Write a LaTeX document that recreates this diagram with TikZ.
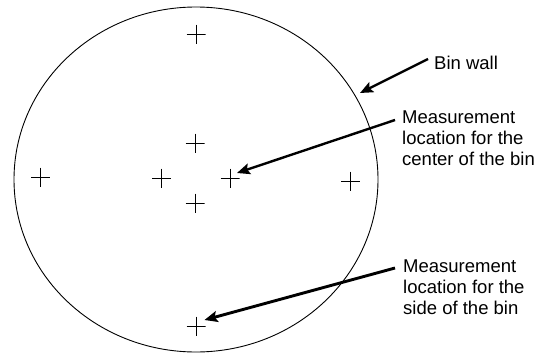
\documentclass[tikz,border=0pt]{standalone}
\usepackage{fontspec}
\setmainfont{Liberation Sans}
\usetikzlibrary{shapes.geometric,arrows.meta,calc}
\begin{document}
\begin{tikzpicture}[x=1pt,y=-1pt,
  xmark/.style={minimum size=19pt,inner sep=0pt,
    path picture={\draw[line width=0.9pt]
      (path picture bounding box.north)--(path picture bounding box.south)
      (path picture bounding box.west)--(path picture bounding box.east);}},
  lbl/.style={inner sep=0pt,align=left,anchor=north west,
    font=\fontsize{18.5}{21}\selectfont},
  pointer/.style={line width=2.4pt,-{Stealth[length=13pt,width=11pt,inset=2.5pt]}}]
\useasboundingbox (0,0) rectangle (539,356);
\node[draw,ellipse,line width=0.9pt,minimum width=364pt,minimum height=345pt,inner sep=0pt] (bin) at (196,179.5) {};
\node[xmark] (cTop) at (196,34) {};
\node[xmark] (cN) at (195,143) {};
\node[xmark] (cW) at (161.5,178) {};
\node[xmark] (cE) at (230,178) {};
\node[xmark] (cS) at (195,203) {};
\node[xmark] (cLeft) at (40.5,177) {};
\node[xmark] (cRight) at (350.5,181) {};
\node[xmark] (cBot) at (196,326) {};
\node[lbl] (wall) at (434,55.5) {Bin wall};
\node[lbl] (ctr) at (402,111) {Measurement\\location for the\\center of the bin};
\node[lbl] (side) at (403,259.5) {Measurement\\location for the\\side of the bin};
\draw[pointer] ($(wall.north west)+(-6,3.5)$) -- ($(bin.center)+(164,-86.5)$);
\draw[pointer] ($(ctr.north west)+(-7,9)$) -- ($(cE)+(7,-5)$);
\draw[pointer,line width=2.9pt] ($(side.north west)+(-8,8.5)$) -- ($(cBot)+(8.5,-6)$);
\end{tikzpicture}
\end{document}
